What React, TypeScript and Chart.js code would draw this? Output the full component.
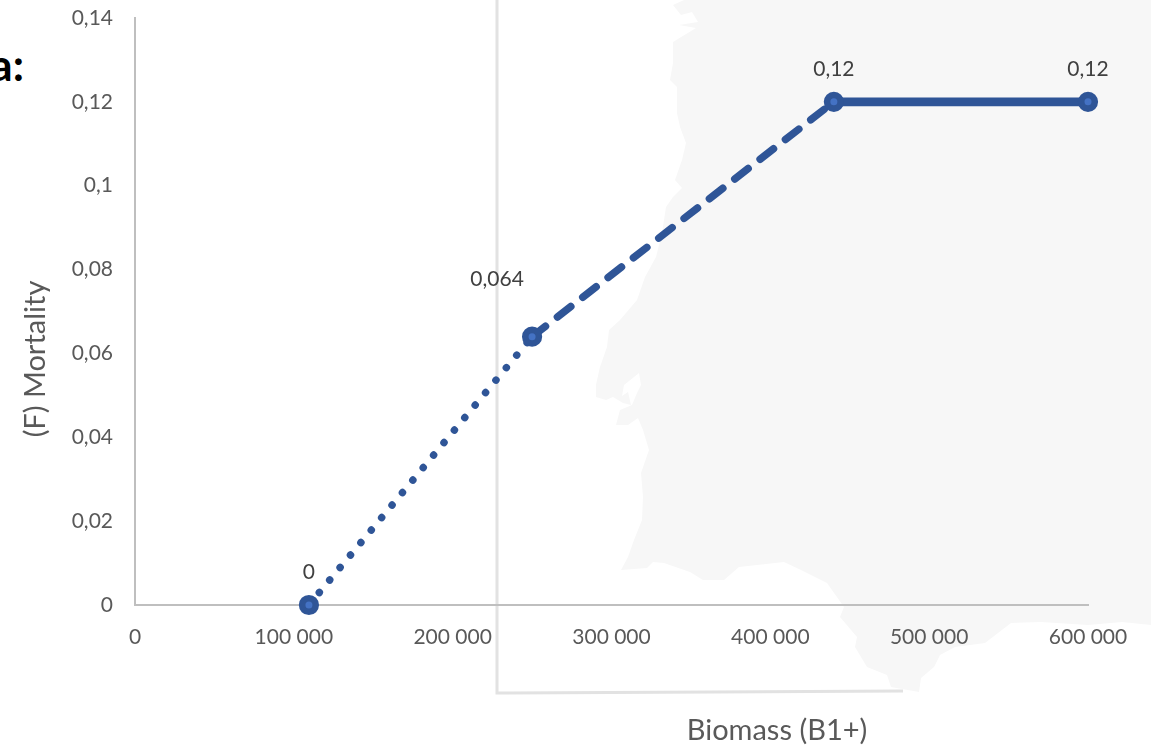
import React, { useEffect, useRef } from "react";
import { Chart, registerables } from "chart.js";

Chart.register(...registerables);

const biomass = [109500, 250000, 440000, 600000];
const mortality = [0, 0.064, 0.12, 0.12];
const pointLabels = ["0", "0,064", "0,12", "0,12"];
const xTitle = "Biomass (B1+)";
const yTitle = "(F) Mortality";

const FONT = "Lato, 'Open Sans', sans-serif";
const W = 1151;
const H = 747;
const MAP =
  "M684,0 L673,5 L681,15 L692,12 L698,22 L679,25 L696,28 L673,42 L673,63 L670,80 L677,87 L677,113 L680,127 L686,143 L682,160 L675,180 L682,188 L673,197 L666,207 L662,233 L656,257 L645,277 L637,300 L620,320 L609,330 L607,347 L600,367 L596,385 L596,397 L606,400 L613,397 L623,403 L631,405 L628,392 L622,396 L624,385 L639,373 L641,385 L637,393 L632,405 L620,410 L616,425 L628,425 L638,418 L643,430 L649,450 L641,473 L643,497 L642,520 L634,540 L628,557 L621,570 L647,568 L653,562 L664,563 L690,572 L703,580 L724,580 L739,567 L784,562 L801,570 L827,583 L844,607 L840,617 L857,637 L855,647 L867,667 L887,675 L891,687 L919,692 L921,678 L934,667 L940,655 L955,647 L985,643 L1011,623 L1041,622 L1088,625 L1122,622 L1151,625 L1151,0 Z";

const labelOffsets: [number, number][] = [
  [0, -33],
  [-35, -57],
  [0, -33],
  [0, -33],
];

const textPlugin = {
  id: "texts",
  afterDatasetsDraw(chart: any) {
    const { ctx } = chart;
    const meta = chart.getDatasetMeta(0);
    ctx.save();
    ctx.textAlign = "center";
    ctx.textBaseline = "middle";
    ctx.fillStyle = "#404040";
    ctx.font = `21px ${FONT}`;
    meta.data.forEach((el: any, i: number) => {
      ctx.fillText(pointLabels[i], el.x + labelOffsets[i][0], el.y + labelOffsets[i][1]);
    });
    ctx.fillStyle = "#595959";
    ctx.font = `29px ${FONT}`;
    ctx.fillText(xTitle, 777, 731);
    ctx.translate(36, 359);
    ctx.rotate(-Math.PI / 2);
    ctx.fillText(yTitle, 0, 0);
    ctx.restore();
  },
};

export default function App() {
  const ref = useRef<HTMLCanvasElement>(null);
  useEffect(() => {
    document.body.style.margin = "0";
    document.body.style.overflow = "hidden";
    const chart = new Chart(ref.current!, {
      type: "scatter",
      data: {
        datasets: [
          {
            data: biomass.map((x, i) => ({ x, y: mortality[i] })),
            showLine: true,
            clip: false,
            borderColor: "#2F5597",
            borderWidth: 7.5,
            borderCapStyle: "round",
            pointRadius: 6.8,
            pointHoverRadius: 6.8,
            pointBorderWidth: 6.6,
            pointBorderColor: "#2F5597",
            pointBackgroundColor: "#4472C4",
            segment: {
              borderDash: (c: any) =>
                c.p0DataIndex === 0 ? [0.01, 16.24] : c.p0DataIndex === 1 ? [17, 15.1] : [],
              borderWidth: (c: any) => (c.p0DataIndex === 2 ? 8.7 : 7.5),
              borderCapStyle: (c: any) => (c.p0DataIndex === 2 ? "butt" : "round"),
            },
          } as any,
        ],
      },
      options: {
        responsive: false,
        animation: false,
        layout: { autoPadding: false, padding: { left: 0, right: W - 1088, top: 18, bottom: 0 } },
        plugins: { legend: { display: false }, tooltip: { enabled: false } },
        scales: {
          x: {
            type: "linear",
            min: 0,
            max: 600000,
            ticks: {
              stepSize: 100000,
              color: "#595959",
              padding: 20,
              maxRotation: 0,
              font: { family: FONT, size: 21 },
              callback: (v: any) => String(v).replace(/\B(?=(\d{3})+$)/g, " "),
            },
            grid: { display: false, drawTicks: false },
            border: { color: "#BFBFBF", width: 2 },
            afterFit: (s: any) => {
              s.height = H - 605;
              s.paddingTop = 0;
              s.paddingBottom = 0;
            },
          },
          y: {
            min: 0,
            max: 0.14,
            ticks: {
              stepSize: 0.02,
              color: "#595959",
              padding: 22,
              font: { family: FONT, size: 21 },
              callback: (v: any) => String(Math.round(v * 100) / 100).replace(".", ","),
            },
            grid: { display: false, drawTicks: false },
            border: { color: "#BFBFBF", width: 2 },
            afterFit: (s: any) => {
              s.width = 135;
              s.paddingTop = 0;
              s.paddingBottom = 0;
            },
          },
        },
      },
      plugins: [textPlugin],
    } as any);
    return () => chart.destroy();
  }, []);

  return (
    <div style={{ position: "absolute", left: 0, top: 0, width: W, height: H, overflow: "hidden", background: "#fff" }}>
      <svg width={W} height={H} style={{ position: "absolute", left: 0, top: 0 }}>
        <path d={MAP} fill="#F7F7F7" />
        <path d="M497,0 L497,693 L903,691" fill="none" stroke="#E2E2E2" strokeWidth={3} />
      </svg>
      <span
        style={{
          position: "absolute",
          right: W - 24,
          top: 38,
          fontFamily: FONT,
          fontWeight: 700,
          fontSize: 44,
          lineHeight: "52px",
          color: "#000",
          whiteSpace: "nowrap",
        }}
      >
        a:
      </span>
      <canvas ref={ref} width={W} height={H} style={{ position: "absolute", left: 0, top: 0 }} />
    </div>
  );
}
